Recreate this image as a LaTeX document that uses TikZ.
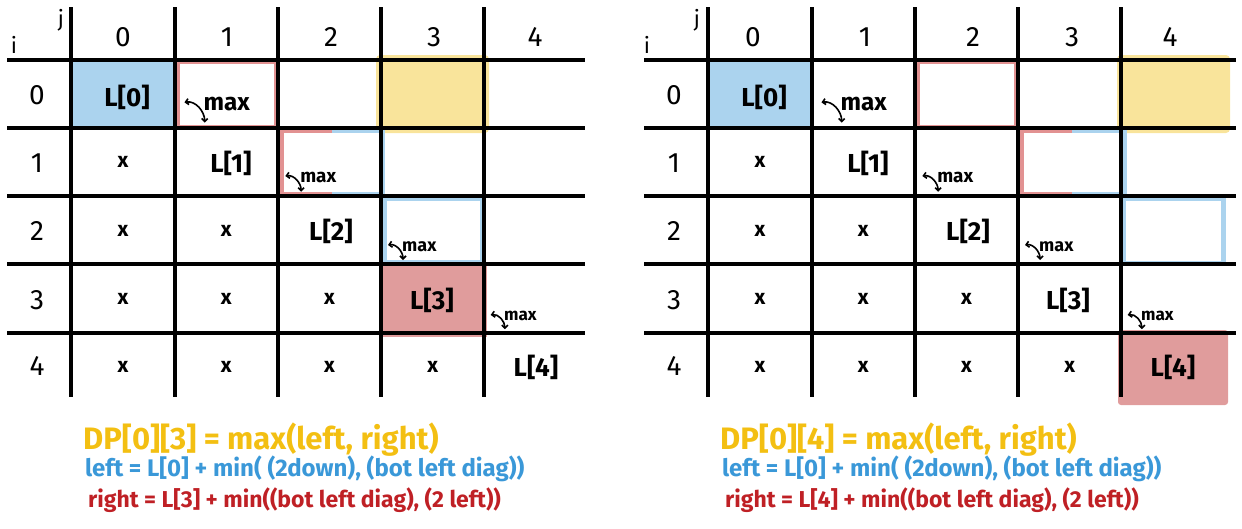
\documentclass[tikz,border=0pt]{standalone}
\usepackage{fontspec}
\setmainfont{Fira Sans}
\usepackage{tikz}
\usetikzlibrary{arrows.meta}
\definecolor{dpblue}{RGB}{171, 211, 238}
\definecolor{dpyellow}{RGB}{249, 228, 155}
\definecolor{dpred}{RGB}{224, 156, 156}
\definecolor{dpredline}{RGB}{226, 146, 146}
\definecolor{txtyellow}{RGB}{243, 191, 18}
\definecolor{txtblue}{RGB}{58, 152, 216}
\definecolor{txtred}{RGB}{191, 32, 37}

\tikzset{
  gridline/.style={line width=3.2pt, black},
  hlbox/.style={line width=5pt},
  headlbl/.style={font=\fontsize{28}{28}\selectfont, inner sep=0pt},
  ijlbl/.style={font=\fontsize{22}{22}\selectfont, inner sep=0pt},
  cellval/.style={font=\fontsize{26}{26}\selectfont\bfseries, inner sep=0pt},
  cross/.style={font=\fontsize{21}{21}\selectfont\bfseries, inner sep=0pt},
  maxarrow/.style={line width=1.6pt, {Straight Barb[length=3pt]}-{Straight Barb[length=3pt]}},
  maxlbl/.style={font=\fontsize{18}{18}\selectfont\bfseries, anchor=base west, inner sep=0pt, transform shape},
  eqlbl/.style={anchor=west, inner sep=0pt},
}

\begin{document}
\begin{tikzpicture}[x=1pt, y=-1pt]
\useasboundingbox (0,0) rectangle (1242,528);

% DP[0][3]
\begin{scope}[name prefix=A-]
% highlighted cells
\fill[dpblue] (69,58) rectangle (177,130);
\fill[dpyellow, rounded corners=4pt] (376,55) rectangle (489,133);
\fill[dpred] (379,262) rectangle (487,337);
\draw[dpredline, hlbox] (177,61) rectangle (276,127);
\draw[dpredline, hlbox] (332,130) -- (281,130) -- (281,194) -- (332,194);
\draw[dpblue, hlbox] (332,130) -- (382,130) -- (382,194) -- (332,194);
\draw[dpblue, hlbox] (384,198) rectangle (482,262);

% grid
\foreach \y in {60,128,196,264,333} \draw[gridline] (7,\y) -- (585,\y);
\foreach \x in {71,175,278,381,484} \draw[gridline] (\x,7) -- (\x,397);

% indices
\node[ijlbl] (i) at (14,45) {i};
\node[ijlbl] (j) at (61,20) {j};
\foreach \k/\x in {0/123,1/227,2/331,3/434,4/535} \node[headlbl] (col\k) at (\x,37) {\k};
\foreach \k/\y in {0/95,1/163,2/231,3/300,4/366} \node[headlbl] (row\k) at (37,\y) {\k};

% diagonal and empty cells
\foreach \k/\x/\y in {0/127/97,1/231/163,2/331/231,3/432/300,4/536/367}
    \node[cellval] (L\k) at (\x,\y) {L[\k]};
\foreach \r/\c in {1/0,2/0,2/1,3/0,3/1,3/2,4/0,4/1,4/2,4/3}
    \node[cross] (x\r\c) at ({123+103.25*\c},{94+68.25*\r}) {x};

% max steps
\foreach \k/\x/\y/\s in {1/175/128/1.35,2/278/196/1.05,3/381/264/1,4/484/333/0.95} {
  \begin{scope}[shift={(\x,\y)}, scale=\s]
    \coordinate (ms\k) at (7,-19);
    \coordinate (me\k) at (22,-4);
    \draw[maxarrow] (ms\k) to[out=10,in=90] (me\k);
    \node[maxlbl] (mx\k) at (21,-13) {max};
  \end{scope}
}

% recurrence
\node[eqlbl, text=txtyellow, font=\fontsize{31}{31}\selectfont\bfseries] (dp) at (83,440) {DP[0][3] = max(left, right)};
\node[eqlbl, text=txtblue, font=\fontsize{24}{24}\selectfont\bfseries] (lefteq) at (85,469) {left = L[0] + min( (2down), (bot left diag))};
\node[eqlbl, text=txtred, font=\fontsize{23}{23}\selectfont\bfseries] (righteq) at (88,500) {right = L[3] + min((bot left diag), (2 left))};
\end{scope}

% DP[0][4]
\begin{scope}[shift={(637,0)}, name prefix=B-]
% highlighted cells
\fill[dpblue] (69,58) rectangle (177,130);
\fill[dpyellow, rounded corners=4pt] (480,55) rectangle (593,133);
\fill[dpred, rounded corners=3pt] (481,330) rectangle (591,405);
\draw[dpredline, hlbox] (280,61) rectangle (379,127);
\draw[dpredline, hlbox] (435,130) -- (384,130) -- (384,194) -- (435,194);
\draw[dpblue, hlbox] (435,130) -- (487,130) -- (487,194) -- (435,194);
\draw[dpblue, hlbox] (486,198) rectangle (586,263);

% grid
\foreach \y in {60,128,196,264,333} \draw[gridline] (7,\y) -- (599,\y);
\foreach \x in {71,175,278,381,484} \draw[gridline] (\x,7) -- (\x,397);

% indices
\node[ijlbl] (i) at (10,45) {i};
\node[ijlbl] (j) at (60,20) {j};
\foreach \k/\x in {0/116,1/228,2/336,3/435,4/533} \node[headlbl] (col\k) at (\x,37) {\k};
\foreach \k/\y in {0/95,1/163,2/231,3/300,4/366} \node[headlbl] (row\k) at (37,\y) {\k};

% diagonal and empty cells
\foreach \k/\x/\y in {0/127/97,1/231/163,2/331/231,3/431/300,4/536/367}
    \node[cellval] (L\k) at (\x,\y) {L[\k]};
\foreach \r/\c in {1/0,2/0,2/1,3/0,3/1,3/2,4/0,4/1,4/2,4/3}
    \node[cross] (x\r\c) at ({123+103.25*\c},{94+68.25*\r}) {x};

% max steps
\foreach \k/\x/\y/\s in {1/175/128/1.35,2/278/196/1.05,3/381/264/1,4/484/333/0.95} {
  \begin{scope}[shift={(\x,\y)}, scale=\s]
    \coordinate (ms\k) at (7,-19);
    \coordinate (me\k) at (22,-4);
    \draw[maxarrow] (ms\k) to[out=10,in=90] (me\k);
    \node[maxlbl] (mx\k) at (21,-13) {max};
  \end{scope}
}

% recurrence
\node[eqlbl, text=txtyellow, font=\fontsize{31}{31}\selectfont\bfseries] (dp) at (83,440) {DP[0][4] = max(left, right)};
\node[eqlbl, text=txtblue, font=\fontsize{24}{24}\selectfont\bfseries] (lefteq) at (85,469) {left = L[0] + min( (2down), (bot left diag))};
\node[eqlbl, text=txtred, font=\fontsize{23}{23}\selectfont\bfseries] (righteq) at (88,500) {right = L[4] + min((bot left diag), (2 left))};
\end{scope}
\end{tikzpicture}
\end{document}
